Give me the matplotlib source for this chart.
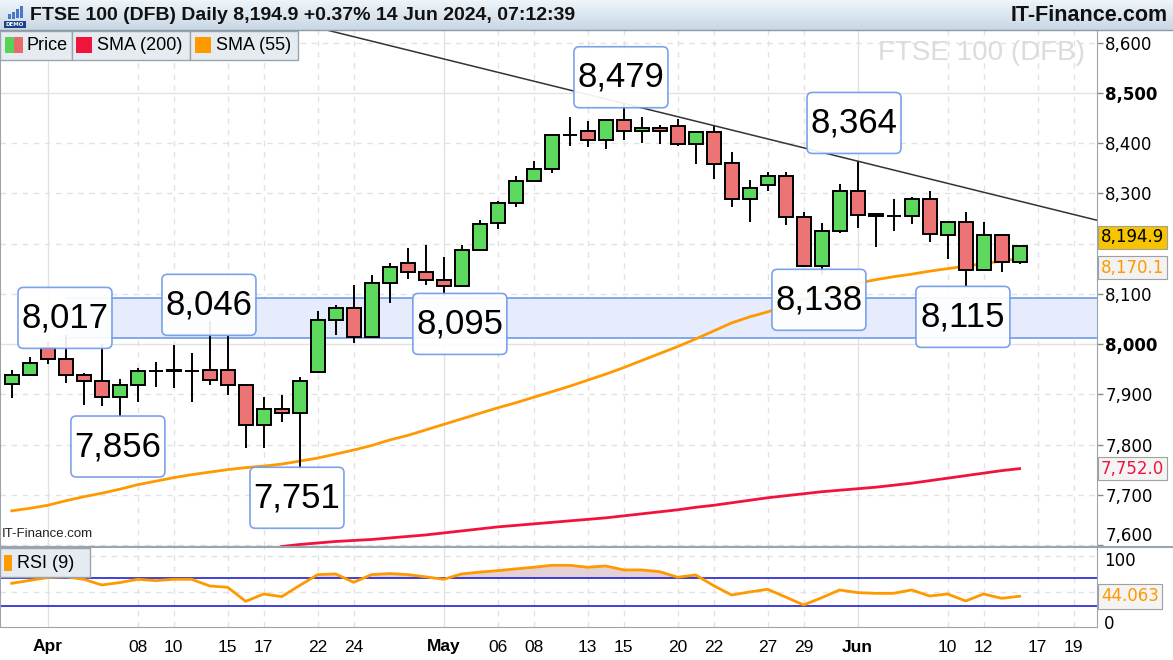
import matplotlib
matplotlib.use("Agg")
import matplotlib.pyplot as plt
import matplotlib.transforms as mtrans
from matplotlib.patches import FancyBboxPatch, Rectangle
import numpy as np
import pandas as pd

# ---- data ----
days = pd.bdate_range("2024-03-28", "2024-06-19")   # trading days incl. two empty future slots
n_candles = 57                                     # 28 Mar .. 14 Jun

opens = [7921, 7939, 7992, 7971, 7939, 7926, 7895, 7919, 7947, 7949,
         7947, 7948, 7948, 7918, 7839, 7870, 7863, 7944, 8048, 8071,
         8013, 8121, 8162, 8144, 8128, 8115, 8188, 8240, 8280, 8325,
         8349, 8416, 8424, 8406, 8446, 8424, 8430, 8434, 8399, 8422,
         8360, 8288, 8316, 8335, 8253, 8156, 8225, 8304, 8258, 8255,
         8255, 8288, 8217, 8242, 8148, 8217, 8163]
highs = [7948, 7975, 8005, 8017, 7942, 8000, 7930, 7953, 7964, 7999,
         7982, 8046, 8015, 7918, 7895, 7899, 7935, 8066, 8078, 8117,
         8137, 8161, 8192, 8197, 8174, 8197, 8247, 8284, 8334, 8364,
         8419, 8452, 8444, 8448, 8479, 8452, 8436, 8448, 8422, 8436,
         8383, 8327, 8342, 8342, 8263, 8241, 8318, 8364, 8258, 8288,
         8293, 8304, 8242, 8263, 8243, 8217, 8198]
lows = [7892, 7939, 7961, 7923, 7879, 7877, 7856, 7885, 7915, 7913,
        7885, 7918, 7899, 7793, 7793, 7844, 7751, 7943, 8017, 8002,
        8013, 8082, 8130, 8117, 8095, 8114, 8186, 8229, 8272, 8324,
        8340, 8394, 8392, 8388, 8407, 8401, 8398, 8394, 8358, 8329,
        8273, 8243, 8304, 8237, 8155, 8138, 8220, 8230, 8194, 8225,
        8238, 8204, 8169, 8115, 8147, 8143, 8160]
closes = [7939, 7963, 7971, 7939, 7926, 7895, 7919, 7947, 7947, 7947,
          7947, 7928, 7918, 7839, 7870, 7863, 7926, 8048, 8071, 8013,
          8121, 8154, 8144, 8128, 8115, 8188, 8239, 8280, 8325, 8349,
          8416, 8416, 8406, 8446, 8424, 8430, 8424, 8398, 8422, 8358,
          8288, 8311, 8335, 8253, 8156, 8225, 8304, 8257, 8255, 8255,
          8288, 8219, 8242, 8148, 8217, 8163, 8194.9]

sma55 = [7668, 7673, 7679, 7688, 7696, 7703, 7711, 7720, 7727, 7734,
         7740, 7745, 7750, 7754, 7757, 7761, 7767, 7773, 7781, 7789,
         7798, 7809, 7818, 7829, 7840, 7851, 7862, 7873, 7883, 7894,
         7905, 7916, 7928, 7940, 7953, 7967, 7981, 7995, 8010, 8026,
         8042, 8054, 8064, 8076, 8088, 8100, 8111, 8121, 8128, 8134,
         8139, 8145, 8150, 8155, 8160, 8165, 8170.1]
sma200 = [np.nan] * 15 + [
    7597, 7601, 7604, 7607, 7609, 7611, 7614, 7617, 7620,
    7624, 7628, 7632, 7636, 7639, 7642, 7645, 7648, 7651, 7654,
    7658, 7662, 7666, 7670, 7675, 7679, 7684, 7689, 7694, 7698,
    7702, 7706, 7709, 7712, 7715, 7719, 7723, 7728, 7733, 7738,
    7743, 7748, 7752.0]
rsi = [62, 66, 70, 71, 67.6, 59.7, 63, 67.6, 65.7, 67.6,
       67.6, 58.3, 56.5, 37, 47.2, 43.5, 59, 74.1, 75, 63.4,
       74.1, 75.5, 74.1, 71, 67.6, 75, 77.5, 79.6, 82, 84.3,
       87, 87, 84.3, 86.1, 80.6, 80.6, 78.2, 70.4, 73.6, 58.8,
       45.8, 50, 53.7, 43, 32, 42, 52.8, 49.1, 48.1, 48.1,
       52.8, 44.4, 47.2, 37.5, 47.2, 41.2, 44.063]

trend_days = ["2024-05-15", "2024-06-03"]
trend_prices = [8479, 8364]
zone_low, zone_high = 8012, 8092
zone_from = "2024-04-02"

tick_days = ["2024-04-01", "2024-04-08", "2024-04-10", "2024-04-15", "2024-04-17",
             "2024-04-22", "2024-04-24", "2024-05-01", "2024-05-06", "2024-05-08",
             "2024-05-13", "2024-05-15", "2024-05-20", "2024-05-22", "2024-05-27",
             "2024-05-29", "2024-06-03", "2024-06-10", "2024-06-12", "2024-06-17",
             "2024-06-19"]
tick_labels = ["Apr", "08", "10", "15", "17", "22", "24", "May", "06", "08", "13",
               "15", "20", "22", "27", "29", "Jun", "10", "12", "17", "19"]
price_ticks = list(range(7600, 8700, 100))

# callout text, x (bar index), y (price) of box centre
callouts = [("8,017", 2.96, 8052), ("8,046", 10.96, 8078), ("7,856", 5.9, 7796),
            ("7,751", 15.85, 7694), ("8,095", 24.9, 8040), ("8,479", 33.85, 8531),
            ("8,364", 46.8, 8440), ("8,138", 44.85, 8088), ("8,115", 52.85, 8054)]

pos = {d.strftime("%Y-%m-%d"): i for i, d in enumerate(days)}
x = np.arange(n_candles)
o, h, l, c = map(np.array, (opens, highs, lows, closes))

W, H = 1173, 660
fig = plt.figure(figsize=(W / 100, H / 100), dpi=100)
fig.patch.set_facecolor("white")
SANS = "Liberation Sans"

pl, pr = 0, 1097
ax = fig.add_axes([pl / W, 1 - 546 / H, (pr - pl) / W, 516 / H])
rax = fig.add_axes([pl / W, 1 - 627 / H, (pr - pl) / W, 79 / H])
XL = (-0.65, 60.3)
YL = (7598, 8625)

# ---- price pane ----
ax.set_xlim(*XL)
ax.set_ylim(*YL)
for d in tick_days:
    month = d.endswith("-01") or d == "2024-06-03"
    for a in (ax, rax):
        a.axvline(pos[d], color="#e2e2e2", lw=1, ls="-" if month else (0, (4, 4)), zorder=0)
for p in price_ticks:
    solid = p in (8000, 8500)
    ax.axhline(p, color="#e2e2e2", lw=1, ls="-" if solid else (0, (4, 4)), zorder=0)

# support zone
ax.add_patch(Rectangle((pos[zone_from], zone_low), XL[1] - pos[zone_from], zone_high - zone_low,
                       fc="#e6ecfc", ec="none", zorder=1))
ax.hlines([zone_low, zone_high], pos[zone_from], XL[1], color="#6f9be8", lw=1.2, zorder=1.5)

ax.plot(x, sma200, color="#f0143c", lw=2, zorder=2)
ax.plot(x, sma55, color="#ff9900", lw=2, zorder=2)

up = c >= o
ax.vlines(x, l, h, color="black", lw=1.4, zorder=3)
ax.bar(x, np.abs(c - o), bottom=np.minimum(o, c), width=0.78,
       color=np.where(up, "#5cd85c", "#ec7474"), edgecolor="black", linewidth=1.4, zorder=4)

tx = [pos[d] for d in trend_days]
ax.axline((tx[0], trend_prices[0]), (tx[1], trend_prices[1]), color="#333333", lw=1.1, zorder=5)

ppx = (YL[1] - YL[0]) / 516          # price units per pixel
asp = ppx * 18
for text, cx, cy in callouts:
    bw, bh = 94 / 18, 61 * ppx
    ax.add_patch(FancyBboxPatch((cx - bw / 2, cy - bh / 2), bw, bh,
                                boxstyle="round,pad=0,rounding_size=0.3", mutation_aspect=asp,
                                fc="white", ec="#6f9be8", lw=1.2, alpha=0.92, zorder=6))
    ax.text(cx, cy, text, ha="center", va="center", fontsize=25, family=SANS, zorder=7)

ax.text(0.989, 0.955, "FTSE 100 (DFB)", transform=ax.transAxes, ha="right", va="center",
        fontsize=20, family=SANS, color="#dcdcdc", zorder=1)
ax.text(0.002, 0.012, "IT-Finance.com", transform=ax.transAxes, ha="left", va="bottom",
        fontsize=9.5, family=SANS, color="#222222", zorder=7)

# the 8,200 label sits behind the current-price box, as on the original
ax.yaxis.tick_right()
ax.set_yticks(price_ticks)
ax.set_yticklabels(["" if p == 8200 else f"{p:,}" for p in price_ticks])
for lab, p in zip(ax.get_yticklabels(), price_ticks):
    lab.set_fontweight("bold" if p in (8000, 8500) else "normal")
    if p == 7600:
        lab.set_va("bottom")
ax.tick_params(axis="y", length=4, width=1, color="#888888", labelsize=12, pad=2)
ax.set_xticks([])
ax.spines["top"].set_visible(False)
for s in ("left", "right", "bottom"):
    ax.spines[s].set_color("#9aa4ad")

blend = mtrans.blended_transform_factory(ax.transAxes, ax.transData)
off = lambda dy: blend + mtrans.ScaledTranslation(0, dy / 72, fig.dpi_scale_trans)
ax.text(1.0035, closes[-1], f"{closes[-1]:,.1f}", transform=off(6.5), ha="left", va="center",
        fontsize=12, color="black", clip_on=False, zorder=8,
        bbox=dict(boxstyle="square,pad=0.15", fc="#f6c400", ec="#a0a0a0", lw=0.8))
ax.text(1.0035, sma55[-1], f"{sma55[-1]:,.1f}", transform=off(-6.5), ha="left", va="center",
        fontsize=12, color="#ff9900", clip_on=False, zorder=8,
        bbox=dict(boxstyle="square,pad=0.15", fc="#f2f2f2", ec="#a0a0a0", lw=0.8))
ax.text(1.0035, sma200[-1], f"{sma200[-1]:,.1f}", transform=blend, ha="left", va="center",
        fontsize=12, color="#f0143c", clip_on=False, zorder=8,
        bbox=dict(boxstyle="square,pad=0.15", fc="#f4f4f4", ec="#a0a0a0", lw=0.8))

# ---- RSI pane ----
r = np.array(rsi)
rax.set_xlim(*XL)
rax.set_ylim(1.4, 111)
rax.axhline(100, color="#e2e2e2", lw=1, ls=(0, (4, 4)), zorder=0)
rax.axhline(50, color="#e2e2e2", lw=1, ls=(0, (4, 4)), zorder=0)
rax.fill_between(x, r, 70, where=r > 70, interpolate=True, color="#dcc2cc", alpha=0.75, zorder=1)
rax.axhline(70, color="#2020d0", lw=1.2, zorder=2)
rax.axhline(30, color="#2020d0", lw=1.2, zorder=2)
rax.plot(x, r, color="#ff9900", lw=2, zorder=3)
rax.set_yticks([])
rblend = mtrans.blended_transform_factory(rax.transAxes, rax.transData)
rax.text(1.0065, 93, "100", transform=rblend, ha="left", va="center", fontsize=12, clip_on=False)
rax.text(1.0065, 5, "0", transform=rblend, ha="left", va="center", fontsize=12, clip_on=False)
rax.text(1.0035, rsi[-1], f"{rsi[-1]:.3f}", transform=rblend, ha="left", va="center",
         fontsize=12, color="#ff9900", clip_on=False,
         bbox=dict(boxstyle="square,pad=0.2", fc="#f4f4f4", ec="#a0a0a0", lw=0.8))
rax.set_xticks([pos[d] for d in tick_days])
rax.set_xticklabels(tick_labels)
for lab, t in zip(rax.get_xticklabels(), tick_labels):
    lab.set_family(SANS)
    lab.set_fontweight("bold" if t.isalpha() else "normal")
rax.tick_params(axis="x", length=0, labelsize=12.5, pad=9)
rax.spines["top"].set_visible(False)
for s in ("left", "right", "bottom"):
    rax.spines[s].set_color("#9aa4ad")

# ---- overlay: header bar and legends (pixel coords) ----
ov = fig.add_axes([0, 0, 1, 1], zorder=10)
ov.axis("off")
grad = np.linspace(0, 1, 30)[:, None]
ov.imshow(grad, extent=(0, W, 30, 0), aspect="auto",
          cmap=matplotlib.colors.LinearSegmentedColormap.from_list("hdr", ["#eef4f9", "#c9d8e5"]))
ov.plot([0, W], [30, 30], color="#8e9aa6", lw=1)
ov.plot([0, W], [546.5, 546.5], color="#9aa4ad", lw=1.5)
ov.set_xlim(0, W)
ov.set_ylim(H, 0)
ov.add_patch(Rectangle((4, 21), 22, 7, fc="#1b3f8a", ec="none"))
ov.text(15, 24.7, "DEMO", ha="center", va="center", fontsize=4, color="white", fontweight="bold")
for bx, by, bh in [(8, 14, 5), (12, 12, 7), (16, 9, 9), (20, 6, 12)]:
    ov.add_patch(Rectangle((bx, by), 2.5, bh, fc="#4a78c8", ec="none"))
ov.text(30, 15.5, "FTSE 100 (DFB) Daily 8,194.9 +0.37% 14 Jun 2024, 07:12:39", ha="left",
        va="center", fontsize=14, fontweight="bold", family=SANS, color="#111111")
ov.text(1168, 15.5, "IT-Finance.com", ha="right", va="center", fontsize=15.5,
        fontweight="bold", family=SANS, color="#111111")

# price legend
for x0, x1 in [(0, 71.5), (71.5, 190), (190, 297.5)]:
    ov.add_patch(Rectangle((x0, 30.5), x1 - x0, 29, fc="#e5ebf1", ec="#9aa4ad", lw=1))
ov.add_patch(Rectangle((4.5, 37), 9.5, 16, fc="#55d455", ec="none"))
ov.add_patch(Rectangle((14, 37), 8.5, 16, fc="#e86a6a", ec="none"))
ov.text(26.5, 45.5, "Price", ha="left", va="center", fontsize=13, family=SANS)
ov.add_patch(Rectangle((76, 37), 16, 16, fc="#f0143c", ec="none"))
ov.text(97, 45.5, "SMA (200)", ha="left", va="center", fontsize=13, family=SANS)
ov.add_patch(Rectangle((194.5, 37), 16, 16, fc="#ff9900", ec="none"))
ov.text(215.5, 45.5, "SMA (55)", ha="left", va="center", fontsize=13, family=SANS)

# RSI legend
ov.add_patch(Rectangle((0, 548), 90, 29, fc="#e5ebf1", ec="#9aa4ad", lw=1))
ov.add_patch(Rectangle((4, 555), 8, 16, fc="#ff9900", ec="none"))
ov.text(17, 563, "RSI (9)", ha="left", va="center", fontsize=13, family=SANS)

fig.savefig("out.png", dpi=100)
